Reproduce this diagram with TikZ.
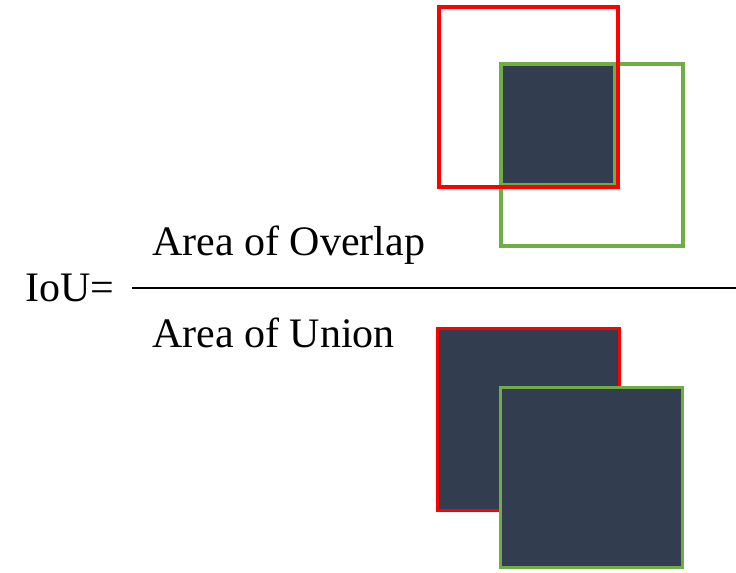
\documentclass[tikz,border=0pt]{standalone}
\usepackage{fontspec}
\setmainfont{Liberation Serif}
\definecolor{boxred}{HTML}{FF0000}
\definecolor{boxgreen}{HTML}{70AD47}
\definecolor{boxfill}{HTML}{323D4F}
\begin{document}
\begin{tikzpicture}[x=0.75pt,y=-0.75pt,
  predbox/.style={draw=boxred,line width=2.8pt},
  truthbox/.style={draw=boxgreen,line width=2.8pt},
  lbl/.style={anchor=base west,inner sep=0pt,font=\fontsize{31.5}{36}\selectfont}]
\useasboundingbox (0,0) rectangle (736,572);

% overlap illustration
\draw[truthbox] (501,64) rectangle (683,246);
\draw[truthbox,fill=boxfill] (501,64) rectangle (615,185);
\draw[predbox] (439,7) rectangle (618,187);

% union illustration
\draw[predbox,line width=2.4pt,fill=boxfill] (437.5,328.5) rectangle (619.5,510.5);
\draw[truthbox,line width=2.4pt,fill=boxfill] (500.5,387.5) rectangle (682.5,567.5);

% formula
\node[lbl] (iou) at (25,301) {IoU=};
\node[lbl] (num) at (152,255) {Area of Overlap};
\node[lbl] (den) at (152,347) {Area of Union};
\coordinate (barL) at (132,288);
\coordinate (barR) at (736,288);
\draw[line width=1.5pt] (barL) -- (barR);
\end{tikzpicture}
\end{document}
